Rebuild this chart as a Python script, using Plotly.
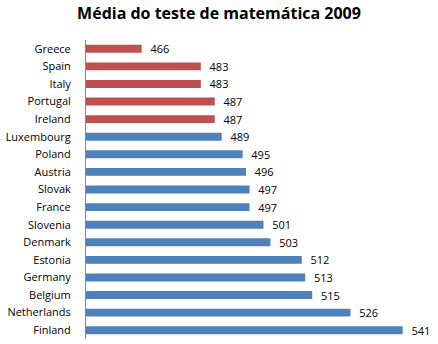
import plotly.graph_objects as go

countries = ["Greece", "Spain", "Italy", "Portugal", "Ireland", "Luxembourg", "Poland",
             "Austria", "Slovak", "France", "Slovenia", "Denmark", "Estonia", "Germany",
             "Belgium", "Netherlands", "Finland"]
scores = [466, 483, 483, 487, 487, 489, 495, 496, 497, 497, 501, 503, 512, 513, 515, 526, 541]
highlight = ["red"] * 5 + ["blue"] * 12

palette = {"red": "#C0504D", "blue": "#4F81BD"}
colors = [palette[h] for h in highlight]

fig = go.Figure(go.Bar(
    x=scores, y=countries, orientation="h",
    marker=dict(color=colors, line=dict(width=0)),
    width=0.45,
    text=[f"  {s}" for s in scores],
    textposition="outside",
    constraintext="none",
    textfont=dict(family="Open Sans, Liberation Sans, sans-serif", size=11, color="#000000"),
    cliponaxis=False,
))

fig.update_layout(
    width=438, height=344,
    margin=dict(l=86, r=4, t=40, b=5),
    paper_bgcolor="white", plot_bgcolor="white",
    showlegend=False,
    title=dict(text="<b>Média do teste de matemática 2009</b>",
               x=0.5, xref="container", xanchor="center", y=0.962, yanchor="middle",
               font=dict(family="Open Sans, Liberation Sans, sans-serif", size=16, color="#000000")),
    xaxis=dict(range=[450, 550], visible=False, showgrid=False, zeroline=False),
    yaxis=dict(autorange="reversed", categoryorder="array", categoryarray=countries,
               showline=True, linecolor="#868686", linewidth=1, ticks="",
               ticklabelstandoff=12,
               tickfont=dict(family="Open Sans, Liberation Sans, sans-serif", size=11, color="#000000"),
               showgrid=False),
)

fig.write_html("out.html")
